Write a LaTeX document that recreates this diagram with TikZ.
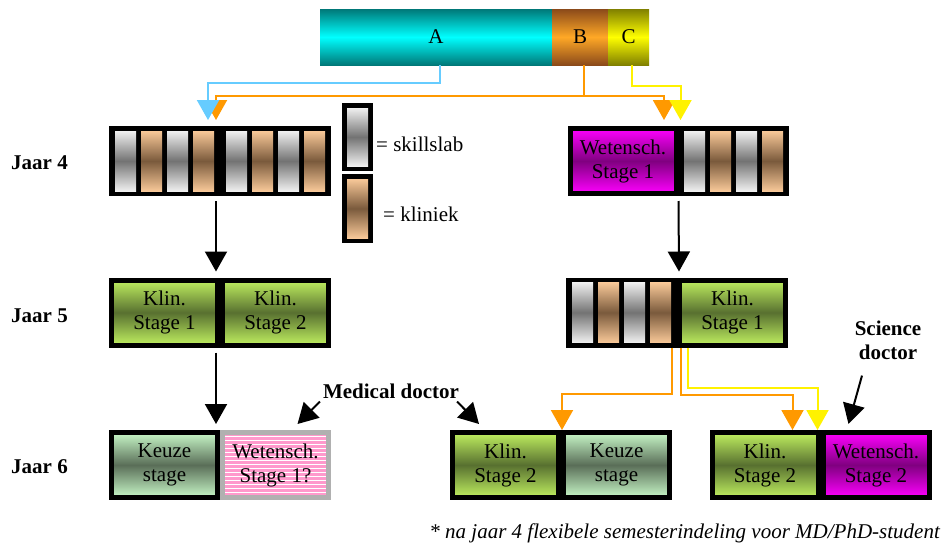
\documentclass[tikz,border=0pt]{standalone}
\usepackage{fontspec}
\setmainfont{Liberation Serif}
\usetikzlibrary{arrows.meta,calc}
\definecolor{huidlicht}{RGB}{248,200,152}
\definecolor{huiddonker}{RGB}{122,90,60}
\definecolor{groenlicht}{RGB}{192,240,96}
\definecolor{groendonker}{RGB}{88,112,48}
\definecolor{muntlicht}{RGB}{200,248,200}
\definecolor{muntdonker}{RGB}{90,110,88}
\definecolor{paarsdonker}{RGB}{128,0,128}
\definecolor{tealdonker}{RGB}{0,120,120}
\definecolor{bruin}{RGB}{139,74,26}
\definecolor{olijf}{RGB}{128,128,0}
\definecolor{lichtblauw}{RGB}{102,204,255}
\definecolor{oranje}{RGB}{255,153,0}
\definecolor{roze}{RGB}{255,153,204}
\definecolor{grijs}{RGB}{176,176,176}
\tikzset{
  zilver/.style={top color=white!94!black,bottom color=white!94!black,middle color=black!55},
  huid/.style={top color=huidlicht,bottom color=huidlicht,middle color=huiddonker},
}
\begin{document}
\begin{tikzpicture}[x=1pt,y=-1pt,
    every node/.style={font=\fontsize{21}{24}\selectfont,align=center,inner sep=0pt},
    blok/.style={draw=black,line width=5pt,outer sep=2.5pt,minimum width=106pt,minimum height=65pt},
    zwart/.style={blok,fill=black},
    groen/.style={blok,top color=groenlicht,bottom color=groenlicht,middle color=groendonker},
    munt/.style={blok,top color=muntlicht,bottom color=muntlicht,middle color=muntdonker},
    magenta/.style={blok,top color=magenta,bottom color=magenta,middle color=paarsdonker},
    balk/.style={minimum height=56pt,outer sep=0pt},
    pijl/.style={line width=2pt,-{Triangle[width=22pt,length=20pt]}},
  ]
  \useasboundingbox (0,0) rectangle (943,544);
  % verdeling A / B / C
  \node (barA) at (436,37) [balk,minimum width=232pt,top color=tealdonker,bottom color=tealdonker,middle color=cyan] {A};
  \node (barB) at (580,37) [balk,minimum width=56pt,top color=bruin,bottom color=bruin,middle color=oranje!85!white] {B};
  \node (barC) at (628.5,37) [balk,minimum width=41pt,top color=olijf,bottom color=olijf,middle color=yellow] {C};

  \node (jaar4) at (11,163) [anchor=west] {\bfseries Jaar 4};
  \node (jaar5) at (11,316) [anchor=west] {\bfseries Jaar 5};
  \node (jaar6) at (11,467) [anchor=west] {\bfseries Jaar 6};

  % jaar 4
  \node (j4a) at (164.5,161) [zwart] {};
  \node (j4b) at (275.5,161) [zwart] {};
  \node (j4c) at (623,161) [magenta] {Wetensch.\\Stage 1};
  \node (j4d) at (733.5,161) [zwart] {};
  \foreach \f in {j4a,j4b,j4d}
    \foreach \i/\s in {0/zilver,1/huid,2/zilver,3/huid}
      \path[\s] ($(\f.north west)+(6+26*\i,5)$) rectangle ++(21,60);

  % legenda
  \node (lg1) at (357.5,137) [zwart,minimum width=26pt,minimum height=63pt] {};
  \node (lg2) at (357.5,208.5) [zwart,minimum width=26pt,minimum height=64pt] {};
  \path[zilver] ($(lg1.north west)+(5,5)$) rectangle ($(lg1.south east)+(-5,-5)$);
  \path[huid] ($(lg2.north west)+(5,5)$) rectangle ($(lg2.south east)+(-5,-5)$);
  \node (lgs) at (376,144) [anchor=west] {= skillslab};
  \node (lgk) at (383,214) [anchor=west] {= kliniek};

  % jaar 5
  \node (j5a) at (164.5,312.5) [groen] {Klin.\\Stage 1};
  \node (j5b) at (275.5,312.5) [groen] {Klin.\\Stage 2};
  \node (j5c) at (621.5,312.5) [zwart] {};
  \node (j5d) at (732.5,312.5) [groen] {Klin.\\Stage 1};
  \foreach \i/\s in {0/zilver,1/huid,2/zilver,3/huid}
    \path[\s] ($(j5c.north west)+(6+26*\i,5)$) rectangle ++(21,60);

  % jaar 6
  \node (j6a) at (164.5,465) [munt] {Keuze\\stage};
  \node (j6b) at (275.5,465) [blok,draw=grijs,fill=roze,
    path picture={\foreach \k in {1,...,16}
      \draw[white,line width=0.9pt] ([yshift=-\k*4pt]path picture bounding box.north west)
        -- ([yshift=-\k*4pt]path picture bounding box.north east);}] {Wetensch.\\Stage 1?};
  \node (j6c) at (505.5,465) [groen] {Klin.\\Stage 2};
  \node (j6d) at (616.5,465) [munt] {Keuze\\stage};
  \node (j6e) at (765,465) [groen] {Klin.\\Stage 2};
  \node (j6f) at (876,465) [magenta] {Wetensch.\\Stage 2};

  \node (md) at (391,391) {\bfseries Medical doctor};
  \node (sd) at (888,340) {\bfseries Science\\\bfseries doctor};
  \node (noot) at (940,533) [anchor=east] {\itshape * na jaar 4 flexibele semesterindeling voor MD/PhD-student};

  % pijlen van A, B en C naar jaar 4
  \draw[pijl,oranje] ([xshift=4pt]barB.south) -- ++(0,31) -| ([xshift=-4pt,yshift=6pt]j4a.north east);
  \draw[pijl,oranje] ([xshift=4pt]barB.south) -- ++(0,31) -| ([xshift=-14.5pt,yshift=6pt]j4c.north east);
  \draw[pijl,lichtblauw] ([xshift=4pt]barA.south) -- ++(0,18) -| ([xshift=-12pt,yshift=6pt]j4a.north east);
  \draw[pijl,yellow] ([xshift=3.5pt]barC.south) -- ++(0,21) -| ([xshift=2.5pt,yshift=6pt]j4d.north west);

  % zwarte pijlen
  \draw[pijl] ([xshift=-4pt,yshift=-5pt]j4a.south east) -- ([xshift=-4pt,yshift=6pt]j5a.north east);
  \draw[pijl] ([yshift=-5pt]j4c.south east) -- ([xshift=2pt,yshift=6pt]j5c.north east);
  \draw[pijl] ([xshift=-4pt,yshift=-5pt]j5a.south east) -- ([xshift=-4pt,yshift=6pt]j6a.north east);
  \draw[pijl] ([xshift=-3pt,yshift=-3pt]md.south west) -- ([xshift=22pt,yshift=6pt]j6b.north);
  \draw[pijl] ([xshift=-2pt,yshift=-3pt]md.south east) -- ([xshift=29pt,yshift=6pt]j6c.north west);
  \draw[pijl] ([xshift=-26pt,yshift=-16pt]sd.south) -- ([xshift=28pt,yshift=6pt]j6f.north west);

  % pijlen van jaar 5 naar jaar 6
  \draw[pijl,oranje] ([xshift=-5pt]j5c.south east) -- ++(0,46) -| ([xshift=1pt]j6c.north east);
  \draw[pijl,oranje] ([xshift=4pt]j5d.south west) -- ++(0,47) -| ([xshift=-28pt]j6e.north east);
  \draw[pijl,yellow] ([xshift=11pt]j5d.south west) -- ++(0,40) -| ([xshift=-3pt]j6e.north east);
\end{tikzpicture}
\end{document}
